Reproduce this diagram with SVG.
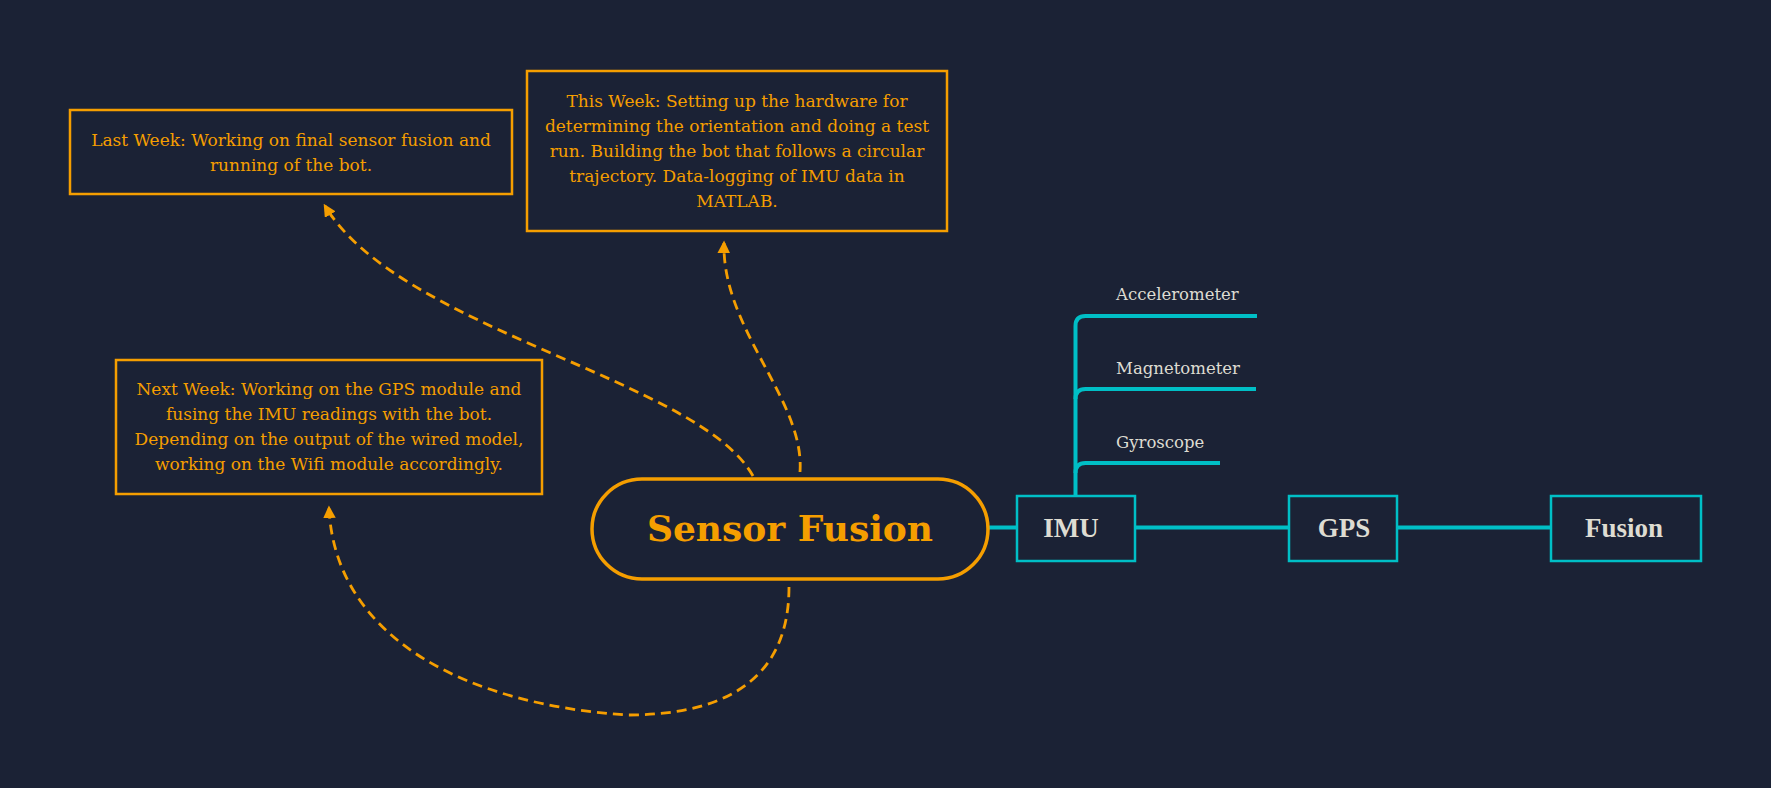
<svg xmlns="http://www.w3.org/2000/svg" width="1771" height="788" viewBox="0 0 1771 788">
<style>
.bg{fill:#1b2235}
.note{fill:#1b2235;stroke:#f59e00;stroke-width:2.5}
.note-t{font-family:"DejaVu Serif",serif;font-size:17px;fill:#f59e00;text-anchor:middle}
.conn{fill:none;stroke:#f59e00;stroke-width:2.8;stroke-dasharray:10 6}
.teal{fill:none;stroke:#00bfc6;stroke-width:4;stroke-linecap:butt}
.tbox{fill:#1b2235;stroke:#00bfc6;stroke-width:2.5}
.tbox-t{font-family:"Liberation Serif",serif;font-weight:bold;font-size:27px;fill:#dedcd2;text-anchor:middle}
.sub-t{font-family:"DejaVu Serif",serif;font-size:16.5px;fill:#dedcd2}
</style>
<defs>
<marker id="arr" viewBox="0 0 10 10" refX="8" refY="5" markerWidth="4.5" markerHeight="4.5" orient="auto" markerUnits="strokeWidth">
<path d="M0,0 L10,5 L0,10 z" fill="#f59e00"/>
</marker>
</defs>
<rect class="bg" x="0" y="0" width="1771" height="788"/>

<g id="connectors">
<path class="conn" d="M753,476 C700,380 400,330 325,206" marker-end="url(#arr)"/>
<path class="conn" d="M800,472 C805,400 722,330 724,243" marker-end="url(#arr)"/>
<path class="conn" d="M789,587 C789,690 710,715 627,715 C470,705 335,640 329,508" marker-end="url(#arr)"/>
<line class="teal" x1="988" y1="527.5" x2="1017" y2="527.5"/>
<line class="teal" x1="1135" y1="527.5" x2="1289" y2="527.5"/>
<line class="teal" x1="1397" y1="527.5" x2="1551" y2="527.5"/>
<path class="teal" d="M1075.5,496 L1075.5,326 Q1075.5,316 1085.5,316 L1257,316"/>
<path class="teal" d="M1075.5,399 Q1075.5,389 1085.5,389 L1256,389"/>
<path class="teal" d="M1075.5,473 Q1075.5,463 1085.5,463 L1220,463"/>
</g>

<g id="last-week">
<rect class="note" x="70" y="110" width="442" height="84"/>
<text class="note-t" x="291" y="146">Last Week: Working on final sensor fusion and</text>
<text class="note-t" x="291" y="171">running of the bot.</text>
</g>

<g id="this-week">
<rect class="note" x="527" y="71" width="420" height="160"/>
<text class="note-t" x="737" y="107">This Week: Setting up the hardware for</text>
<text class="note-t" x="737" y="132">determining the orientation and doing a test</text>
<text class="note-t" x="737" y="157">run. Building the bot that follows a circular</text>
<text class="note-t" x="737" y="182">trajectory. Data-logging of IMU data in</text>
<text class="note-t" x="737" y="207">MATLAB.</text>
</g>

<g id="next-week">
<rect class="note" x="116" y="360" width="426" height="134"/>
<text class="note-t" x="329" y="395">Next Week: Working on the GPS module and</text>
<text class="note-t" x="329" y="420">fusing the IMU readings with the bot.</text>
<text class="note-t" x="329" y="445">Depending on the output of the wired model,</text>
<text class="note-t" x="329" y="470">working on the Wifi module accordingly.</text>
</g>

<g id="sensor-fusion">
<rect x="592" y="479" width="396" height="100" rx="50" ry="50" fill="#1b2235" stroke="#f59e00" stroke-width="3.5"/>
<text x="790" y="541" font-family="DejaVu Serif, serif" font-weight="bold" font-size="36" fill="#f59e00" text-anchor="middle">Sensor Fusion</text>
</g>

<g id="imu">
<rect class="tbox" x="1017" y="496" width="118" height="65"/>
<text class="tbox-t" x="1071" y="537">IMU</text>
</g>
<g id="gps">
<rect class="tbox" x="1289" y="496" width="108" height="65"/>
<text class="tbox-t" x="1344" y="537">GPS</text>
</g>
<g id="fusion">
<rect class="tbox" x="1551" y="496" width="150" height="65"/>
<text class="tbox-t" x="1624" y="537">Fusion</text>
</g>

<g id="accelerometer"><text class="sub-t" x="1116" y="300">Accelerometer</text></g>
<g id="magnetometer"><text class="sub-t" x="1116" y="374">Magnetometer</text></g>
<g id="gyroscope"><text class="sub-t" x="1116" y="448">Gyroscope</text></g>
</svg>
